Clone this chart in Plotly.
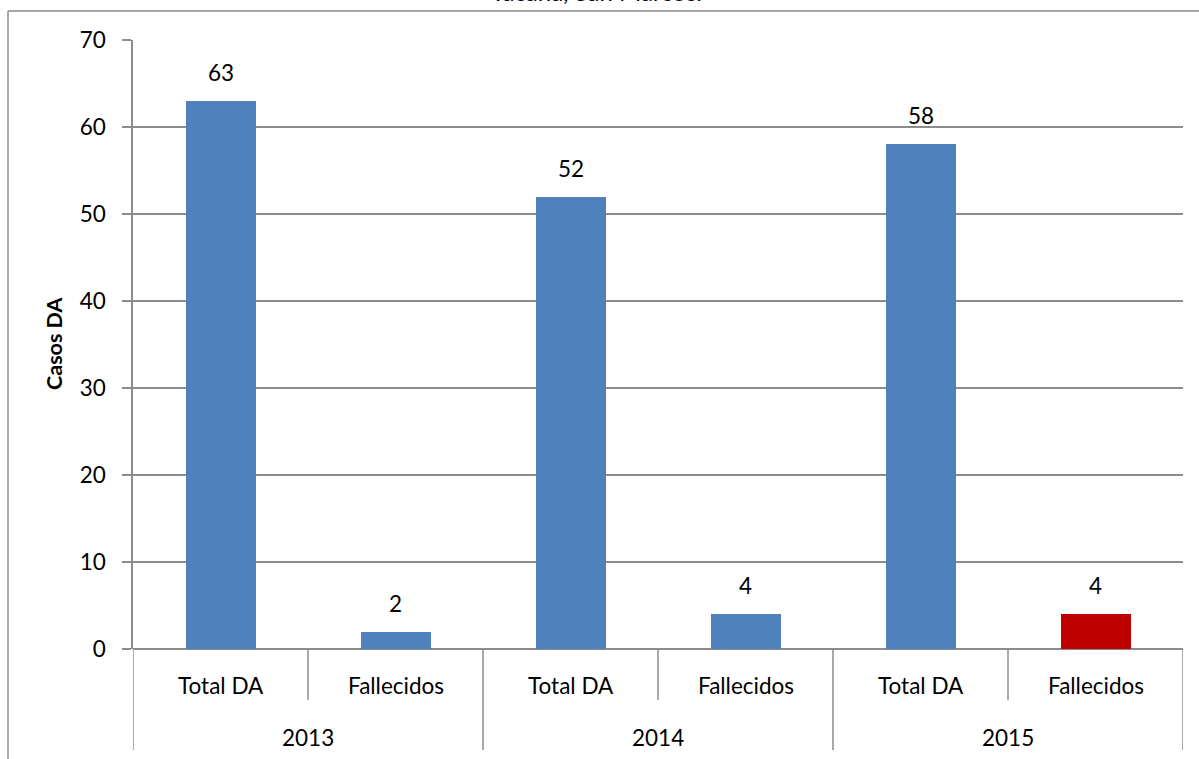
import plotly.graph_objects as go

# Data
years = ["2013", "2014", "2015"]
subcats = ["Total DA", "Fallecidos"]
values = [63, 2, 52, 4, 58, 4]
bar_colors = ["#4F81BD", "#4F81BD", "#4F81BD", "#4F81BD", "#4F81BD", "#C00000"]
y_ticks = [0, 10, 20, 30, 40, 50, 60, 70]
title_text = "Tacaná, San Marcos."
y_title = "Casos DA"

FONT = "Lato, 'Open Sans', sans-serif"
GRID = "#8C8C8C"
FS = 22.5

# Plot-area geometry in pixels
W, H = 1199, 759
PL, PR, PT, PB = 133, 1183, 40, 649


def px_x(p):
    return (p - PL) / (PR - PL)


def px_y(p):
    return (PB - p) / (PB - PT)


n = len(values)
xs = [i + 0.5 for i in range(n)]
cat_labels = [subcats[i % len(subcats)] for i in range(n)]

fig = go.Figure()
fig.add_trace(go.Bar(
    x=xs, y=values, width=0.4,
    marker=dict(color=bar_colors, line=dict(width=0)),
    hoverinfo="skip", showlegend=False,
))

annotations = []
# value labels above bars
for x, v in zip(xs, values):
    annotations.append(dict(
        x=x, y=v, xref="x", yref="y", text=str(v), showarrow=False,
        yanchor="bottom", yshift=13, font=dict(family=FONT, size=FS, color="#000"),
    ))
# subcategory labels
for x, lab in zip(xs, cat_labels):
    annotations.append(dict(
        x=x, y=px_y(685), xref="x", yref="paper", text=lab, showarrow=False,
        yanchor="middle", font=dict(family=FONT, size=FS, color="#000"),
    ))
# year labels
for j, yr in enumerate(years):
    annotations.append(dict(
        x=j * 2 + 1, y=px_y(737), xref="x", yref="paper", text=yr, showarrow=False,
        yanchor="middle", font=dict(family=FONT, size=FS, color="#000"),
    ))
# title, mostly above the visible page
annotations.append(dict(
    x=px_x(596), y=px_y(8.5), xref="paper", yref="paper", text=title_text,
    showarrow=False, yanchor="bottom", xanchor="center",
    font=dict(family=FONT, size=24, color="#000"),
))
# y-axis title
annotations.append(dict(
    x=px_x(54), y=px_y(344), xref="paper", yref="paper", text="<b>" + y_title + "</b>",
    showarrow=False, textangle=-90, xanchor="center", yanchor="middle",
    font=dict(family=FONT, size=21.5, color="#000"),
))

shapes = []
# separators on the category axis
for k in range(n + 1):
    bottom = 750 if k % 2 == 0 else 700
    shapes.append(dict(
        type="line", xref="x", yref="paper", x0=k, x1=k, y0=0, y1=px_y(bottom),
        line=dict(color=GRID, width=1.5),
    ))
# outer chart border (left and top edges)
shapes.append(dict(
    type="line", xref="paper", yref="paper", x0=px_x(8), x1=px_x(8),
    y0=px_y(11), y1=px_y(800), line=dict(color="#8C8C8C", width=1.5),
))
shapes.append(dict(
    type="line", xref="paper", yref="paper", x0=px_x(8), x1=px_x(1250),
    y0=px_y(11), y1=px_y(11), line=dict(color="#8C8C8C", width=1.5),
))

fig.update_layout(
    width=W, height=H,
    margin=dict(l=PL, r=W - PR, t=PT, b=H - PB, pad=0),
    paper_bgcolor="white", plot_bgcolor="white",
    bargap=0, showlegend=False,
    annotations=annotations, shapes=shapes,
    font=dict(family=FONT, size=FS, color="#000"),
)
fig.update_xaxes(
    range=[0, n], showticklabels=False, showgrid=False, zeroline=False,
    showline=False, ticks="", fixedrange=True,
)
fig.update_yaxes(
    range=[0, 70], tickvals=y_ticks, ticks="outside", ticklen=9,
    tickcolor=GRID, tickwidth=1.5, showgrid=True, gridcolor=GRID, gridwidth=1.5,
    zeroline=True, zerolinecolor=GRID, zerolinewidth=1.5,
    showline=True, linecolor=GRID, linewidth=1.5,
    tickfont=dict(family=FONT, size=FS, color="#000"), ticklabelstandoff=12,
    fixedrange=True,
)

fig.write_html("out.html", config={"displayModeBar": False})
